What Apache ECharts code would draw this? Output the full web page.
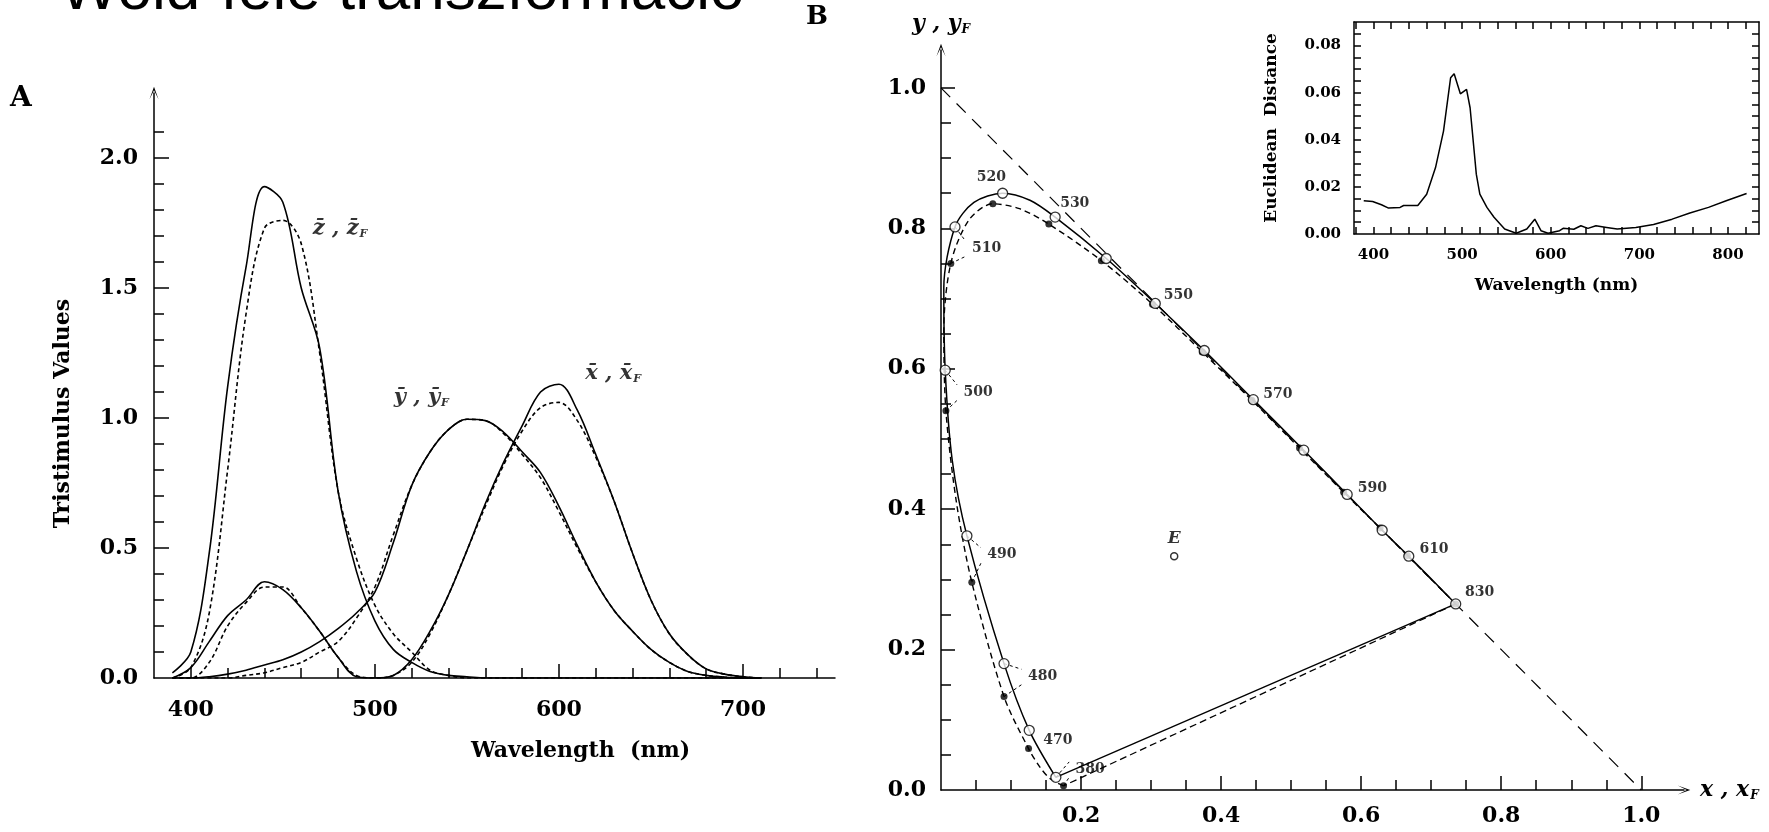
<!DOCTYPE html>
<html>
<head>
<meta charset="utf-8">
<title>Wold-féle transzformáció</title>
<script src="https://cdn.jsdelivr.net/npm/echarts@6/dist/echarts.min.js"></script>
<style>
  html, body { margin: 0; padding: 0; background: #fff; }
  #main { width: 1769px; height: 832px; }
</style>
</head>
<body>
<div id="main"></div>
<script>
// panel A - tristimulus values, sampled every 10 nm
const wavelengths = [390, 400, 410, 420, 430, 440, 450, 460, 470, 480, 490, 500, 510, 520, 530, 540, 550,
  560, 570, 580, 590, 600, 610, 620, 630, 640, 650, 660, 670, 680, 690, 700, 710];
const zBar  = [0.02, 0.10, 0.48, 1.12, 1.58, 1.89, 1.83, 1.50, 1.27, 0.72, 0.41, 0.22, 0.11, 0.06, 0.025, 0.01, 0.005,
  0, 0, 0, 0, 0, 0, 0, 0, 0, 0, 0, 0, 0, 0, 0, 0];
const zBarF = [0.0, 0.04, 0.25, 0.80, 1.40, 1.73, 1.76, 1.67, 1.25, 0.72, 0.46, 0.28, 0.17, 0.10, 0.03, 0.01, 0.0,
  0, 0, 0, 0, 0, 0, 0, 0, 0, 0, 0, 0, 0, 0, 0, 0];
const xBar  = [0.0, 0.04, 0.14, 0.24, 0.30, 0.37, 0.34, 0.27, 0.18, 0.08, 0.005, 0.0, 0.01, 0.07, 0.18, 0.32, 0.49,
  0.67, 0.83, 0.97, 1.10, 1.13, 1.03, 0.86, 0.68, 0.48, 0.30, 0.17, 0.09, 0.035, 0.015, 0.005, 0.0];
const xBarF = [0.0, 0.0, 0.06, 0.20, 0.29, 0.35, 0.35, 0.27, 0.18, 0.08, 0.01, 0.0, 0.01, 0.06, 0.17, 0.32, 0.49,
  0.66, 0.82, 0.95, 1.04, 1.06, 0.99, 0.85, 0.68, 0.48, 0.30, 0.17, 0.09, 0.035, 0.015, 0.005, 0.0];
const yBar  = [0, 0, 0.005, 0.015, 0.03, 0.05, 0.07, 0.10, 0.14, 0.19, 0.25, 0.33, 0.52, 0.74, 0.87, 0.955, 0.995,
  0.99, 0.945, 0.87, 0.79, 0.66, 0.51, 0.37, 0.26, 0.18, 0.11, 0.06, 0.025, 0.01, 0.003, 0, 0];
const yBarF = [0, 0, 0, 0, 0.01, 0.02, 0.04, 0.06, 0.10, 0.14, 0.23, 0.35, 0.55, 0.74, 0.87, 0.955, 0.995,
  0.99, 0.94, 0.86, 0.77, 0.64, 0.50, 0.37, 0.26, 0.18, 0.11, 0.06, 0.025, 0.01, 0.003, 0, 0];
const curveNames = ['z', 'y', 'x'];
const curveNameWl = [466, 510, 614];
const curveNameVal = [1.73, 1.08, 1.17];

// panel B - chromaticity loci (solid = Wold, dashed = F)
const woldWl = [380, 470, 480, 490, 495, 500, 505, 510, 515, 520, 525, 530, 540, 550, 560, 570, 580, 590, 600, 610, 830];
const woldX = [0.164, 0.126, 0.090, 0.037, 0.016, 0.006, 0.004, 0.020, 0.047, 0.088, 0.127, 0.163, 0.236, 0.306,
  0.376, 0.446, 0.518, 0.580, 0.630, 0.668, 0.735];
const woldY = [0.018, 0.085, 0.180, 0.362, 0.470, 0.598, 0.715, 0.802, 0.837, 0.850, 0.840, 0.816, 0.757, 0.693,
  0.626, 0.556, 0.484, 0.421, 0.370, 0.333, 0.265];
const fWl = [380, 450, 460, 470, 480, 490, 495, 500, 505, 510, 515, 520, 525, 530, 540, 550, 560, 570, 580, 590, 600, 610, 830];
const fX = [0.175, 0.156, 0.141, 0.125, 0.090, 0.044, 0.022, 0.007, 0.004, 0.014, 0.040, 0.074, 0.112, 0.154,
  0.229, 0.302, 0.373, 0.444, 0.512, 0.575, 0.627, 0.666, 0.735];
const fY = [0.006, 0.016, 0.033, 0.059, 0.133, 0.296, 0.410, 0.540, 0.655, 0.750, 0.812, 0.835, 0.828, 0.806,
  0.754, 0.692, 0.624, 0.555, 0.487, 0.424, 0.373, 0.334, 0.265];
const markedWl = [380, 470, 480, 490, 500, 510, 520, 530, 540, 550, 560, 570, 580, 590, 600, 610, 830];
const labelWl = [380, 470, 480, 490, 500, 510, 520, 530, 550, 570, 590, 610, 830];
const labelX = [0.213, 0.167, 0.145, 0.087, 0.053, 0.065, 0.072, 0.191, 0.339, 0.481, 0.616, 0.704, 0.769];
const labelY = [0.030, 0.071, 0.162, 0.335, 0.567, 0.772, 0.873, 0.836, 0.705, 0.563, 0.429, 0.343, 0.282];
const leaderWl = [380, 480, 490, 500, 510];
const diagonal = [[0, 1], [1, 0]];
const equalEnergy = [0.333, 0.333];

// inset - euclidean distance between the two loci
const insetWl = [389, 399, 409, 417, 430, 434, 450, 460, 470, 479, 487, 491, 498, 505, 509, 516, 520, 528, 536, 548,
  561, 573, 582, 589, 597, 610, 614, 626, 634, 642, 651, 663, 675, 696, 716, 737, 757, 778, 798, 821];
const insetDist = [0.0141, 0.0138, 0.0124, 0.0110, 0.0113, 0.0121, 0.0121, 0.0169, 0.0282, 0.0437,
  0.0663, 0.0680, 0.0595, 0.0614, 0.0536, 0.0254, 0.0169, 0.0113, 0.0071, 0.0021,
  0.0003, 0.0021, 0.0063, 0.0014, 0.0003, 0.0014, 0.0024, 0.0020, 0.0035, 0.0024,
  0.0035, 0.0028, 0.0021, 0.0028, 0.0040, 0.0063, 0.0089, 0.0113, 0.0141, 0.0172];

const serif = 'DejaVu Serif';
const arrow = 'path://M0,14 L5,0 L10,14 L5,4 Z';

function steps(a, b, d) {
  const out = [];
  for (let i = 0; a + i * d <= b + 1e-9; i++) out.push(+(a + i * d).toFixed(4));
  return out;
}
function without(list, drop) {
  return list.filter(v => !drop.some(d => Math.abs(d - v) < 1e-6));
}
function pairs(xs, ys) {
  return xs.map((x, i) => [x, ys[i]]);
}
function pick(wls, xs, ys, keep) {
  return keep.map(w => { const i = wls.indexOf(w); return [xs[i], ys[i]]; });
}

function valueAxis(c) {
  const nameStyle = c.nameStyle || { color: '#000', fontFamily: serif, fontWeight: 'bold', fontSize: c.nameSize || 22 };
  if (c.namePad) nameStyle.padding = c.namePad;
  return {
    type: 'value',
    gridIndex: c.grid,
    position: c.pos,
    min: c.min,
    max: c.max,
    axisLine: {
      show: !!c.line, onZero: false,
      symbol: c.arrow ? ['none', arrow] : ['none', 'none'], symbolSize: [9, 14],
      lineStyle: { color: '#000', width: 1.5 }
    },
    axisTick: { show: true, inside: true, length: c.tickLen, customValues: c.ticks, lineStyle: { color: '#000', width: 1.5 } },
    axisLabel: c.labels ? {
      show: true, customValues: c.labels, margin: c.margin,
      formatter: v => c.digits === undefined ? String(v) : Number(v).toFixed(c.digits),
      color: '#000', fontFamily: serif, fontWeight: 'bold', fontSize: c.fs
    } : { show: false },
    splitLine: { show: false },
    name: c.name || '',
    nameLocation: c.nameLoc || 'middle',
    nameGap: c.nameGap || 0,
    nameRotate: c.nameRotate,
    nameTextStyle: nameStyle
  };
}

const italicName = {
  rich: {
    v: { fontFamily: serif, fontStyle: 'italic', fontWeight: 'bold', fontSize: 22, color: '#000' },
    s: { fontFamily: serif, fontStyle: 'italic', fontWeight: 'bold', fontSize: 12, color: '#000', verticalAlign: 'bottom', padding: [12, 0, 0, 1] }
  }
};

const xAxes = [
  // A
  valueAxis({ grid: 0, pos: 'bottom', min: 380, max: 750, line: true, ticks: [500, 600, 700], tickLen: 14,
    labels: [400, 500, 600, 700], fs: 22, margin: 21, name: 'Wavelength  (nm)', nameGap: 62, namePad: [0, 0, 0, 172] }),
  valueAxis({ grid: 0, pos: 'bottom', min: 380, max: 750, ticks: without(steps(400, 740, 20), [500, 600, 700]), tickLen: 10 }),
  // B
  valueAxis({ grid: 1, pos: 'bottom', min: 0, max: 1.061, line: true, arrow: true, ticks: steps(0.2, 1.0, 0.2), tickLen: 14,
    labels: steps(0.2, 1.0, 0.2), digits: 1, fs: 22, margin: 15,
    name: '{v|x , x}{s|F}', nameLoc: 'end', nameGap: 16, nameStyle: italicName }),
  valueAxis({ grid: 1, pos: 'bottom', min: 0, max: 1.061, ticks: without(steps(0.05, 1.0, 0.05), steps(0.2, 1.0, 0.2)), tickLen: 10 }),
  // inset
  valueAxis({ grid: 2, pos: 'bottom', min: 378, max: 835, line: true, ticks: steps(380, 820, 20), tickLen: 7,
    labels: [400, 500, 600, 700, 800], fs: 15, margin: 14, name: 'Wavelength (nm)', nameGap: 43, nameSize: 17 }),
  valueAxis({ grid: 2, pos: 'top', min: 378, max: 835, line: true, ticks: steps(380, 820, 20), tickLen: 7 })
];

const yAxes = [
  // A
  valueAxis({ grid: 0, pos: 'left', min: 0, max: 2.25, line: true, arrow: true, ticks: steps(0.5, 2.0, 0.5), tickLen: 15,
    labels: steps(0, 2.0, 0.5), digits: 1, fs: 22, margin: 16,
    name: 'Tristimulus Values', nameRotate: 90, nameGap: 80, namePad: [0, 56, 0, 0] }),
  valueAxis({ grid: 0, pos: 'left', min: 0, max: 2.25, ticks: without(steps(0.1, 2.1, 0.1), steps(0.5, 2.0, 0.5)), tickLen: 10 }),
  // B
  valueAxis({ grid: 1, pos: 'left', min: 0, max: 1.054, line: true, arrow: true, ticks: steps(0.2, 1.0, 0.2), tickLen: 14,
    labels: steps(0, 1.0, 0.2), digits: 1, fs: 22, margin: 15,
    name: '{v|y , y}{s|F}', nameLoc: 'end', nameGap: 14, nameStyle: italicName }),
  valueAxis({ grid: 1, pos: 'left', min: 0, max: 1.054, ticks: without(steps(0.05, 1.0, 0.05), steps(0.2, 1.0, 0.2)), tickLen: 10 }),
  // inset
  valueAxis({ grid: 2, pos: 'left', min: 0, max: 0.09, line: true, ticks: steps(0.005, 0.085, 0.005), tickLen: 7,
    labels: steps(0, 0.08, 0.02), digits: 2, fs: 15, margin: 13,
    name: 'Euclidean  Distance', nameRotate: 90, nameGap: 74, nameSize: 17 }),
  valueAxis({ grid: 2, pos: 'right', min: 0, max: 0.09, line: true, ticks: steps(0.005, 0.085, 0.005), tickLen: 7 })
];

function curve(data, dashed, xi, yi, extra) {
  return Object.assign({
    type: 'line', xAxisIndex: xi, yAxisIndex: yi, data, showSymbol: false, smooth: 0.35,
    lineStyle: { color: '#000', width: 1.6, type: dashed ? [4, 3] : 'solid' },
    silent: true, z: 3
  }, extra || {});
}

const series = [
  curve(pairs(wavelengths, zBar), false, 0, 0),
  curve(pairs(wavelengths, zBarF), true, 0, 0),
  curve(pairs(wavelengths, yBar), false, 0, 0),
  curve(pairs(wavelengths, yBarF), true, 0, 0),
  curve(pairs(wavelengths, xBar), false, 0, 0),
  curve(pairs(wavelengths, xBarF), true, 0, 0),
  {
    type: 'scatter', xAxisIndex: 0, yAxisIndex: 0, symbolSize: 1, itemStyle: { color: 'rgba(0,0,0,0)' },
    data: curveNames.map((n, i) => ({ value: [curveNameWl[i], curveNameVal[i]], name: n })),
    label: {
      show: true, position: 'right', distance: 0,
      formatter: p => '{v|' + p.name + '\u0304 , ' + p.name + '\u0304}{s|F}',
      rich: {
        v: { fontFamily: serif, fontStyle: 'italic', fontWeight: 'bold', fontSize: 21, color: '#000' },
        s: { fontFamily: serif, fontStyle: 'italic', fontWeight: 'bold', fontSize: 11, color: '#000', verticalAlign: 'bottom', padding: [11, 0, 0, 1] }
      }
    }
  },

  // B
  curve(diagonal, false, 2, 2, { smooth: false, lineStyle: { color: '#000', width: 1.2, type: [13, 9] } }),
  curve(pairs(woldX, woldY), false, 2, 2, { smooth: 0.3, lineStyle: { color: '#000', width: 1.5 } }),
  curve(pairs(fX, fY), true, 2, 2, { smooth: 0.3, lineStyle: { color: '#000', width: 1.4, type: [6, 4] } }),
  curve([[woldX[woldX.length - 1], woldY[woldY.length - 1]], [woldX[0], woldY[0]]], false, 2, 2,
    { smooth: false, lineStyle: { color: '#000', width: 1.4 } }),
  curve([[fX[fX.length - 1], fY[fY.length - 1]], [fX[0], fY[0]]], true, 2, 2,
    { smooth: false, lineStyle: { color: '#000', width: 1.3, type: [7, 4] } }),
  // leader lines from the two points to their wavelength label
  curve(leaderWl.flatMap(w => {
    const li = labelWl.indexOf(w);
    const a = pick(woldWl, woldX, woldY, [w])[0];
    const b = pick(fWl, fX, fY, [w])[0];
    const end1 = [labelX[li] - 0.03, labelY[li] + 0.01];
    const end2 = [labelX[li] - 0.03, labelY[li] - 0.012];
    return [a, end1, '-', b, end2, '-'];
  }), true, 2, 2, { smooth: false, connectNulls: false, lineStyle: { color: '#000', width: 1, type: [3, 3] } }),
  {
    type: 'scatter', xAxisIndex: 2, yAxisIndex: 2, symbol: 'circle', symbolSize: 7, z: 5,
    itemStyle: { color: '#000' }, data: pick(fWl, fX, fY, markedWl)
  },
  {
    type: 'scatter', xAxisIndex: 2, yAxisIndex: 2, symbol: 'circle', symbolSize: 10, z: 6,
    itemStyle: { color: '#fff', borderColor: '#000', borderWidth: 1.3 }, data: pick(woldWl, woldX, woldY, markedWl)
  },
  {
    type: 'scatter', xAxisIndex: 2, yAxisIndex: 2, symbolSize: 1, z: 7, itemStyle: { color: 'rgba(0,0,0,0)' },
    data: labelWl.map((w, i) => ({ value: [labelX[i], labelY[i]], name: String(w) })),
    label: { show: true, position: 'inside', formatter: '{b}', color: '#000', fontFamily: serif, fontWeight: 'bold', fontSize: 14 }
  },
  {
    type: 'scatter', xAxisIndex: 2, yAxisIndex: 2, symbol: 'circle', symbolSize: 7, z: 7,
    itemStyle: { color: '#fff', borderColor: '#000', borderWidth: 1.5 },
    data: [{ value: equalEnergy, name: 'E' }],
    label: { show: true, position: 'top', distance: 5, formatter: '{b}', color: '#000', fontFamily: serif, fontStyle: 'italic', fontWeight: 'bold', fontSize: 17 }
  },

  // inset
  curve(pairs(insetWl, insetDist), false, 4, 4, { smooth: false, lineStyle: { color: '#000', width: 1.5 } })
];

const chart = echarts.init(document.getElementById('main'));
chart.setOption({
  backgroundColor: '#fff',
  animation: false,
  grid: [
    { left: 154, top: 93, width: 681, height: 585 },
    { left: 941, top: 50, width: 743, height: 740 },
    { left: 1354, top: 22, width: 405, height: 212 }
  ],
  xAxis: xAxes,
  yAxis: yAxes,
  series,
  graphic: [
    { type: 'text', x: 60, y: -8, silent: true,
      style: { text: 'Wold-féle transzformáció', font: '62px "Liberation Sans"', fill: '#000', verticalAlign: 'middle', textVerticalAlign: 'middle' } },
    { type: 'text', x: 10, y: 99, silent: true,
      style: { text: 'A', font: 'bold 28px "DejaVu Serif"', fill: '#000', verticalAlign: 'middle', textVerticalAlign: 'middle' } },
    { type: 'text', x: 806, y: 17, silent: true,
      style: { text: 'B', font: 'bold 26px "DejaVu Serif"', fill: '#000', verticalAlign: 'middle', textVerticalAlign: 'middle' } }
  ]
});
</script>
</body>
</html>
